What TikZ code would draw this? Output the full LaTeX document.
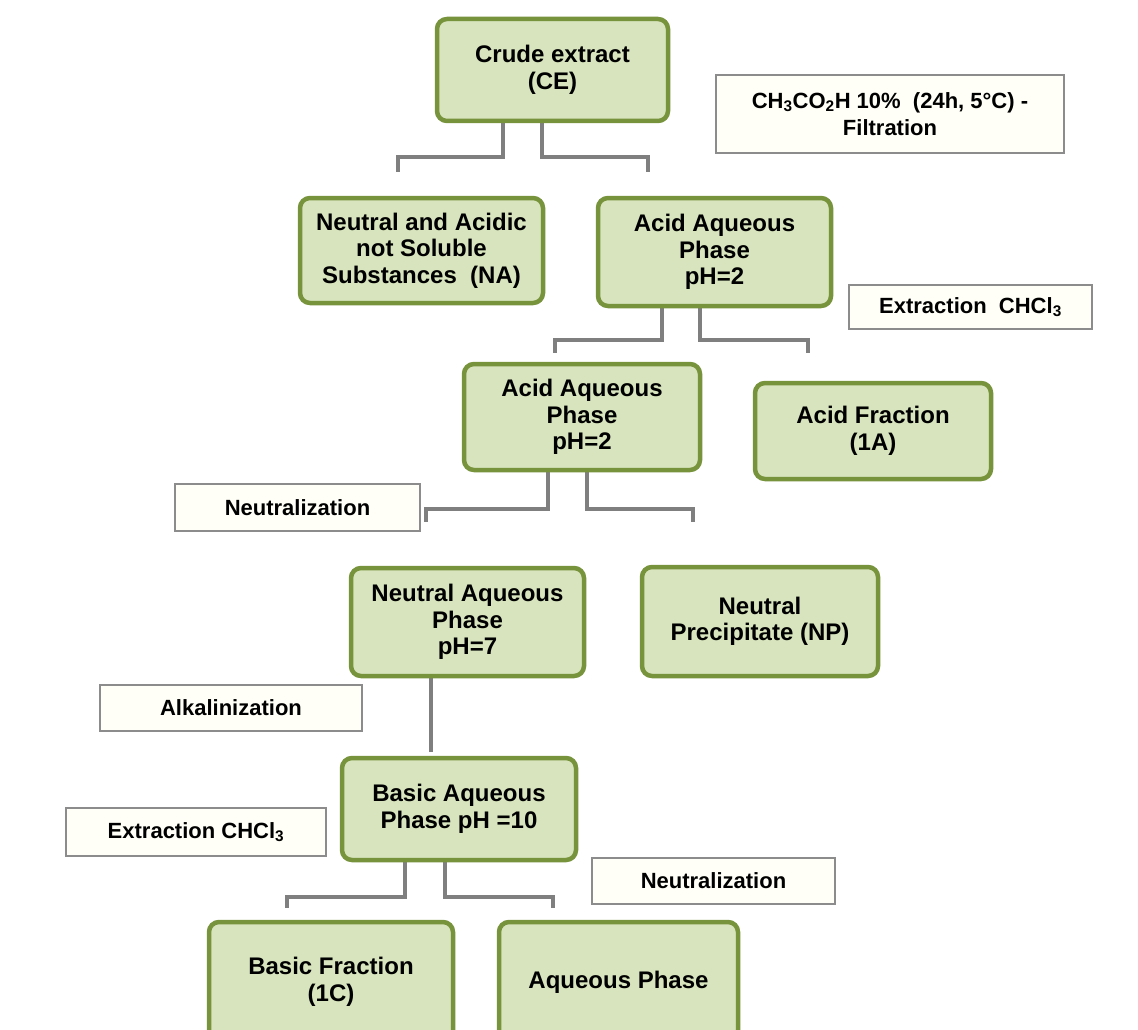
\documentclass[tikz,border=0pt]{standalone}
\usepackage{fontspec}
\setmainfont{Liberation Sans}
\usetikzlibrary{backgrounds}
\definecolor{boxfill}{HTML}{D7E4BD}
\definecolor{boxedge}{HTML}{77933C}
\definecolor{notefill}{HTML}{FFFFF8}
\definecolor{notegray}{HTML}{8C8C8C}
\definecolor{conngray}{HTML}{7F7F7F}
\begin{document}
\begin{tikzpicture}[x=1pt,y=-1pt,
  stage/.style={draw=boxedge, fill=boxfill, line width=4.5pt, rounded corners=10pt,
    align=center, font=\fontsize{24}{26.5}\selectfont\bfseries, inner sep=0pt},
  note/.style={draw=notegray, fill=notefill, line width=1.5pt, align=center,
    font=\fontsize{22}{27}\selectfont\bfseries, inner sep=0pt},
  conn/.style={draw=conngray, line width=4pt}]
\useasboundingbox (0,0) rectangle (1138,1030);
\clip (0,0) rectangle (1138,1030);

% process boxes
\node[stage, minimum width=231pt, minimum height=102pt] (CE) at (552.5,70) {Crude extract\\(CE)};
\node[stage, minimum width=243pt, minimum height=105pt] (NA) at (421.5,250.5) {Neutral and Acidic\\not Soluble\\Substances\ \ (NA)};
\node[stage, minimum width=233pt, minimum height=108pt] (AAP1) at (714.5,252) {Acid Aqueous\\Phase\\pH=2};
\node[stage, minimum width=236pt, minimum height=106pt] (AAP2) at (582,417) {Acid Aqueous\\Phase\\pH=2};
\node[stage, minimum width=236pt, minimum height=96pt] (A1) at (873,431) {Acid Fraction\\(1A)};
\node[stage, minimum width=233pt, minimum height=108pt] (NAP) at (467.5,622) {Neutral Aqueous\\Phase\\pH=7};
\node[stage, minimum width=236pt, minimum height=109pt] (NP) at (760,621.5) {Neutral\\Precipitate (NP)};
\node[stage, minimum width=234pt, minimum height=102pt] (BAP) at (459,809) {Basic Aqueous\\Phase pH =10};
\node[stage, minimum width=244pt, minimum height=120pt] (C1) at (331,982) {Basic Fraction\\(1C)};
\node[stage, minimum width=239pt, minimum height=120pt] (AqP) at (618.5,982) {Aqueous Phase};

% operation notes
\node[note, minimum width=348pt, minimum height=78pt] (L1) at (890,114) {CH\textsubscript{3}CO\textsubscript{2}H 10\%\ \ (24h, 5°C) -\\Filtration};
\node[note, minimum width=243pt, minimum height=44pt] (L2) at (970.5,307) {Extraction\ \ CHCl\textsubscript{3}};
\node[note, minimum width=245pt, minimum height=47pt] (L3) at (297.5,507.5) {Neutralization};
\node[note, minimum width=262pt, minimum height=46pt] (L4) at (231,708) {Alkalinization};
\node[note, minimum width=260pt, minimum height=48pt] (L5) at (196,832) {Extraction CHCl\textsubscript{3}};
\node[note, minimum width=243pt, minimum height=46pt] (L6) at (713.5,881) {Neutralization};

% connector ends
\coordinate (ceL) at (398,172);
\coordinate (ceR) at (648,172);
\coordinate (apL) at (555,353);
\coordinate (apR) at (808,353);
\coordinate (a2L) at (426,522);
\coordinate (a2R) at (693,522);
\coordinate (npD) at (431,752);
\coordinate (bpL) at (287,908);
\coordinate (bpR) at (553,908);

\begin{scope}[on background layer]
\fill[white] (0,0) rectangle (1138,1030);
\draw[conn] ([xshift=-49.5pt]CE.south) -- ++(0,34) -| (ceL);
\draw[conn] ([xshift=-10.5pt]CE.south) -- ++(0,34) -| (ceR);
\draw[conn] ([xshift=-52.5pt]AAP1.south) -- ++(0,32) -| (apL);
\draw[conn] ([xshift=-14.5pt]AAP1.south) -- ++(0,32) -| (apR);
\draw[conn] ([xshift=-34pt]AAP2.south) -- ++(0,37) -| (a2L);
\draw[conn] ([xshift=5pt]AAP2.south) -- ++(0,37) -| (a2R);
\draw[conn] ([xshift=-36.5pt]NAP.south) -- (npD);
\draw[conn] ([xshift=-54pt]BAP.south) -- ++(0,35) -| (bpL);
\draw[conn] ([xshift=-14pt]BAP.south) -- ++(0,35) -| (bpR);
\end{scope}
\end{tikzpicture}
\end{document}
